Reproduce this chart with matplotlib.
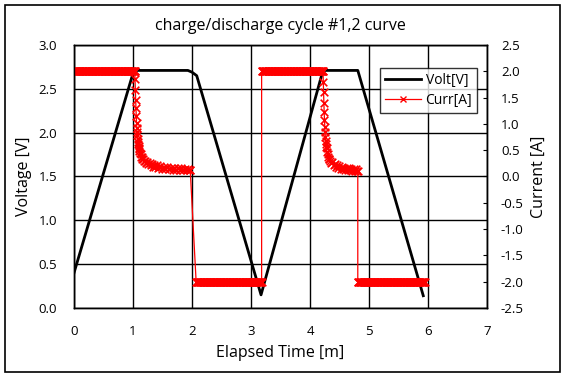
from matplotlib import pyplot as plt
from matplotlib.patches import Rectangle
from matplotlib.lines import Line2D
import numpy as np

plt.rcParams['font.family'] = ['Open Sans', 'DejaVu Sans']

# Voltage readings (time [m], volt [V])
volt_t = [0.0, 1.01, 1.05, 1.93, 2.00, 2.08, 3.17, 4.22, 4.81, 5.92]
volt_v = [0.40, 2.70, 2.71, 2.71, 2.69, 2.65, 0.15, 2.71, 2.71, 0.14]

# Current readings (time [m], curr [A])
# constant-current stretches: (start, end, value)
cc_parts = [(0.00, 1.03, 2.0), (2.07, 3.18, -2.0), (3.18, 4.22, 2.0), (4.81, 5.95, -2.0)]
# taper after first charge
taper1_t = [1.03, 1.035, 1.04, 1.045, 1.05, 1.055, 1.06, 1.065, 1.07, 1.075, 1.08, 1.085, 1.09,
            1.095, 1.10, 1.105, 1.11, 1.12, 1.13, 1.14, 1.15, 1.16, 1.17, 1.18, 1.20, 1.22, 1.24,
            1.26, 1.28, 1.30, 1.32, 1.34, 1.36, 1.38, 1.40, 1.43, 1.46, 1.49, 1.52, 1.55, 1.58,
            1.61, 1.64, 1.67, 1.70, 1.73, 1.76, 1.79, 1.82, 1.85, 1.88, 1.91, 1.94, 1.96]
taper1_i = [2.0, 1.85, 1.65, 1.45, 1.30, 1.15, 1.02, 0.92, 0.84, 0.78, 0.72, 0.66, 0.62,
            0.58, 0.55, 0.52, 0.49, 0.44, 0.42, 0.38, 0.37, 0.33, 0.34, 0.30, 0.29, 0.26, 0.28,
            0.23, 0.25, 0.21, 0.24, 0.19, 0.22, 0.18, 0.21, 0.16, 0.20, 0.15, 0.19, 0.14, 0.18,
            0.14, 0.17, 0.13, 0.17, 0.12, 0.16, 0.13, 0.17, 0.12, 0.15, 0.12, 0.15, 0.13]
drop1_t = [1.97]
drop1_i = [0.12]
# taper after second charge
taper2_t = [4.22, 4.225, 4.23, 4.235, 4.24, 4.245, 4.25, 4.255, 4.26, 4.265, 4.27, 4.275, 4.28,
            4.29, 4.30, 4.31, 4.32, 4.33, 4.34, 4.36, 4.38, 4.40, 4.42, 4.44, 4.46, 4.48, 4.50,
            4.52, 4.54, 4.56, 4.58, 4.60, 4.62, 4.64, 4.66, 4.68, 4.70, 4.72, 4.74, 4.76, 4.78,
            4.80, 4.81]
taper2_i = [2.0, 1.80, 1.60, 1.40, 1.22, 1.08, 0.95, 0.84, 0.75, 0.68, 0.62, 0.57, 0.54,
            0.46, 0.42, 0.38, 0.34, 0.33, 0.30, 0.26, 0.27, 0.22, 0.24, 0.19, 0.21, 0.17, 0.20,
            0.15, 0.18, 0.14, 0.17, 0.13, 0.16, 0.12, 0.16, 0.12, 0.15, 0.11, 0.15, 0.11, 0.14,
            0.11, 0.10]

# build one current trace in time order
curr_t, curr_i = [], []
def add_cc(part):
    a, b, v = part
    tt = np.linspace(a, b, int((b - a) / 0.01) + 1)
    curr_t.extend(tt)
    curr_i.extend([v] * len(tt))
add_cc(cc_parts[0])
curr_t.extend(taper1_t); curr_i.extend(taper1_i)
curr_t.extend(drop1_t); curr_i.extend(drop1_i)
add_cc(cc_parts[1])
add_cc(cc_parts[2])
curr_t.extend(taper2_t); curr_i.extend(taper2_i)
add_cc(cc_parts[3])

fig = plt.figure(figsize=(5.69, 3.80), dpi=100)
fig.patches.append(Rectangle((5 / 569, 1 - 372 / 380), 555 / 569, 367 / 380,
                             transform=fig.transFigure, fill=False, edgecolor='black', lw=1.2))

ax = fig.add_axes([74 / 569, 1 - 308 / 380, 413 / 569, 263 / 380])
ax2 = ax.twinx()

ax.plot(volt_t, volt_v, color='black', lw=2, zorder=3)
ax2.plot(curr_t, curr_i, color='red', lw=0.9)
ax2.scatter(curr_t, curr_i, color='red', marker='x', s=30, linewidths=1.2)

ax.set_xlim(0, 7)
ax.set_ylim(0, 3.0)
ax2.set_ylim(-2.5, 2.5)
ax.set_xticks(range(0, 8))
ax.set_yticks(np.arange(0, 3.01, 0.5))
ax.set_yticklabels(['%.1f' % v for v in np.arange(0, 3.01, 0.5)])
ax2.set_yticks(np.arange(-2.5, 2.51, 0.5))
ax2.set_yticklabels(['%.1f' % v for v in np.arange(-2.5, 2.51, 0.5)])
ax.grid(True, color='black', lw=1)
ax.tick_params(axis='both', length=0, labelsize=9.5, pad=12)
ax2.tick_params(axis='y', direction='in', length=3, labelsize=9.5, pad=10)
for a in (ax, ax2):
    for s in a.spines.values():
        s.set_linewidth(1)

ax.set_title('charge/discharge cycle #1,2 curve', fontsize=11.5, pad=11)
ax.set_xlabel('Elapsed Time [m]', fontsize=11.5, labelpad=5)
ax.set_ylabel('Voltage [V]', fontsize=11.5, labelpad=5)
ax2.set_ylabel('Current [A]', fontsize=11.5, labelpad=5)

handles = [Line2D([], [], color='black', lw=2, label='Volt[V]'),
           Line2D([], [], color='red', lw=0.9, marker='x', ms=5, mew=1, label='Curr[A]')]
leg = ax2.legend(handles=handles, loc='upper right', bbox_to_anchor=(0.976, 0.9125),
                 borderaxespad=0, fontsize=10, frameon=True, fancybox=False, edgecolor='black',
                 handlelength=2.6, handletextpad=0.3, borderpad=0.35, labelspacing=0.35)
leg.get_frame().set_linewidth(1)

fig.savefig('out.png', dpi=100)
